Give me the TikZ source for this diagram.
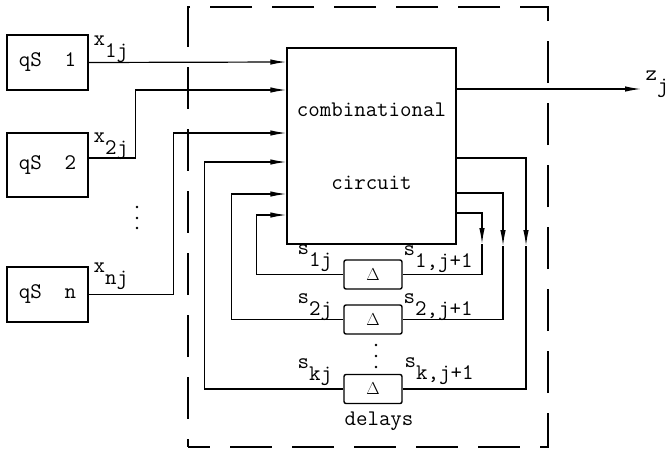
\documentclass[tikz,border=0pt]{standalone}
\usepackage{fontspec}
\usetikzlibrary{arrows.meta}
\newcommand{\sig}[2]{#1\raisebox{-12pt}{#2}}
\newcommand{\dlt}{{\fontsize{17}{18}\selectfont$\Delta$}}

\begin{document}
\begin{tikzpicture}[x=1pt,y=-1pt,
  font=\ttfamily\fontsize{22.3}{26}\selectfont,
  line width=1.2pt,
  src/.style={draw,line width=1.4pt,minimum width=81pt,minimum height=55pt,inner sep=0pt},
  logic/.style={draw,line width=1.4pt,minimum width=169pt,minimum height=196pt,
                inner sep=0pt,align=center},
  dly/.style={draw,line width=1.4pt,rounded corners=2pt,minimum width=58pt,
              minimum height=29pt,inner sep=0pt},
  frame/.style={draw,line width=1.4pt,dash pattern=on 42pt off 20pt,dash phase=20pt,
                minimum width=360pt,minimum height=440pt,inner sep=0pt},
  flow/.style={-{Latex[length=16pt,width=5.5pt]}},
  lbl/.style={anchor=base west,inner sep=0pt}
]
\useasboundingbox (0,0) rectangle (671,450);

%------ the sequential machine boundary ---------------------------------------
\node[frame] (sys) at (368,227) {};

%------ sources ---------------------------------------------------------------
\node[src] (qs1) at (47.5,62.5) {qS\ \ 1};
\node[src,minimum height=64pt] (qs2) at (47.5,165) {qS\ \ 2};
\node[src] (qsn) at (47.5,294.5) {qS\ \ n};
\foreach \y in {207,218,228} \fill (137,\y) circle (1.4pt);

%------ combinational part + delays -------------------------------------------
\node[logic] (comb) at (371.5,146) {combinational\\[47pt]circuit};
\node[dly] (d1) at (373,274.5) {\dlt};
\node[dly] (d2) at (373,319.5) {\dlt};
\node[dly] (d3) at (373,389) {\dlt};
\foreach \y in {345,356,367} \fill (376,\y) circle (1.4pt);
\node[anchor=base,inner sep=0pt] (dlab) at (379,425) {delays};

%------ pins ------------------------------------------------------------------
\foreach \n/\y in {1/62,2/90,3/133,4/162,5/194,6/215}
  \coordinate (in\n) at (comb.west |- 0,\y);
\coordinate (oz) at (comb.east |- 0,89);
\coordinate (o3) at (comb.east |- 0,158);
\coordinate (o2) at (comb.east |- 0,193);
\coordinate (o1) at (comb.east |- 0,213);
\coordinate (m1) at (482,244);
\coordinate (m2) at (503,246);
\coordinate (m3) at (526,246);
\coordinate (zout) at (641,89);

%------ inputs ----------------------------------------------------------------
\draw[flow] (qs1.east) -- (in1);
\draw[flow] ([yshift=7pt]qs2.east) -- ++(47,0) |- (in2);
\draw[flow] (qsn.east) -- ++(84.5,0) |- (in3);
\node[lbl] (lx1) at (93,45)  {\sig{x}{1j}};
\node[lbl] (lx2) at (93,142) {\sig{x}{2j}};
\node[lbl] (lxn) at (93,272) {\sig{x}{nj}};

%------ output ----------------------------------------------------------------
\draw[flow] (oz) -- (zout);
\node[lbl] (lz) at (645,80) {\sig{z}{j}};

%------ next state into the delays --------------------------------------------
\draw[flow] (o1) -| (m1);
\draw (m1) |- (d1.east);
\draw[flow] (o2) -| (m2);
\draw (m2) |- (d2.east);
\draw[flow] (o3) -| (m3);
\draw (m3) |- (d3.east);

%------ present state back to the circuit -------------------------------------
\draw[flow] (d1.west) -- ++(-87,0) |- (in6);
\draw[flow] (d2.west) -- ++(-112,0) |- (in5);
\draw[flow] (d3.west) -- ++(-139,0) |- (in4);

\node[lbl] (s1) at (297,254) {\sig{s}{1j}};
\node[lbl] (s2) at (297,303) {\sig{s}{2j}};
\node[lbl] (sk) at (297,368) {\sig{s}{kj}};
\node[lbl] (n1) at (403,255) {\sig{s}{1,j+1}};
\node[lbl] (n2) at (403,303) {\sig{s}{2,j+1}};
\node[lbl] (nk) at (404,367) {\sig{s}{k,j+1}};
\end{tikzpicture}
\end{document}
